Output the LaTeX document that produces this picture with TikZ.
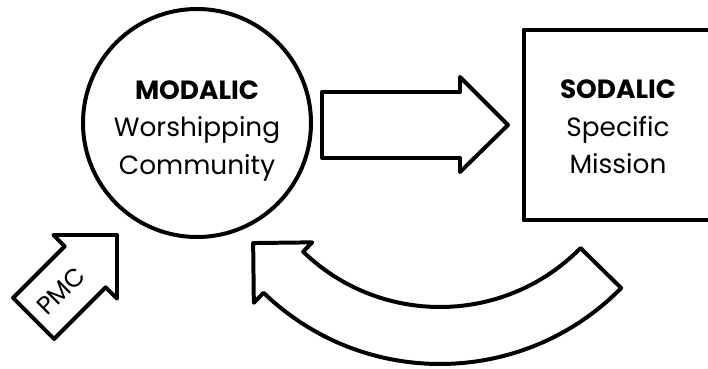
\documentclass[tikz,border=0pt]{standalone}
\usepackage{fontspec}
\setmainfont{Poppins}
\usetikzlibrary{calc}

\begin{document}
\begin{tikzpicture}[x=0.03cm,y=-0.03cm,line join=round,
        shapeline/.style={draw,line width=3.4pt,fill=white},
        bigtext/.style={align=center,font=\fontsize{22.5}{32}\selectfont}]

  \useasboundingbox (0,0) rectangle (708,368);

  \node[shapeline,circle,minimum size=6.84cm] (modalic) at (197,123) {};
  \node[bigtext] (modalictext) at ($(modalic)+(0,8)$)
        {\textbf{MODALIC}\\Worshipping\\Community};
  \node[shapeline,line width=4.2pt,minimum width=5.64cm,minimum height=5.7cm] (sodalic) at (618,125) {};
  \node[bigtext] (sodalictext) at ($(sodalic)+(0,2)$)
        {\textbf{SODALIC}\\Specific\\Mission};

  % arrow between the two
  \draw[shapeline] (322,92) -- (460,92) -- (460,77) -- (508,125) -- (460,172)
        -- (460,158) -- (322,158) -- cycle;

  % curved arrow back
  \coordinate (hub) at (440,110);
  \draw[shapeline] ($(hub)+(44.5:197)$) arc[start angle=44.5,end angle=134,radius=197]
        -- ($(hub)+(134:184)$) -- ($(hub)+(134:225.5)+(224:42)$)
        -- ($(hub)+(134:268)$) -- ($(hub)+(134:254)$)
        arc[start angle=134,end angle=44.5,radius=254] -- cycle;

  \begin{scope}[shift={(117,235)},rotate=45]
    \draw[shapeline] (0,0) -- (-45,-45) -- (-45,-29) -- (-118,-29) -- (-118,29)
          -- (-45,29) -- (-45,45) -- cycle;
    \node[rotate=45,font=\fontsize{21.5}{23}\selectfont] (pmc) at (-79,0) {PMC};
  \end{scope}

\end{tikzpicture}
\end{document}
